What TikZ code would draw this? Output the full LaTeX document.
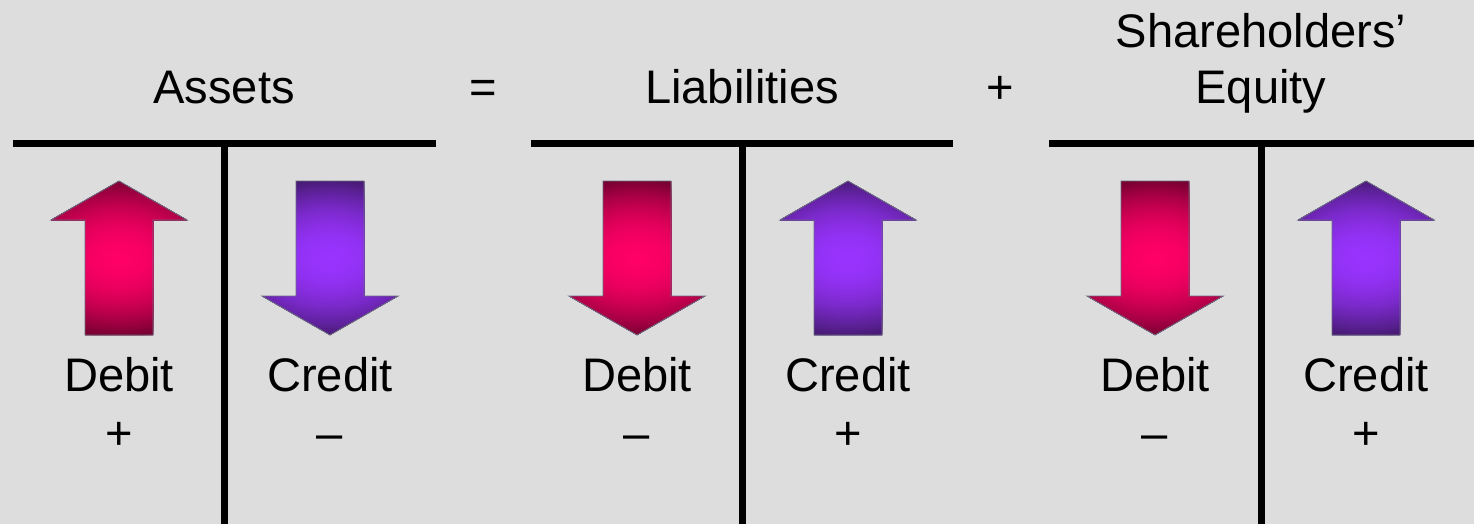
\documentclass[tikz,border=0pt]{standalone}
\usepackage{fontspec}
\setmainfont{Liberation Sans}
\usepackage{tikz}
\usetikzlibrary{positioning}

\definecolor{bgray}{HTML}{DDDDDD}
\definecolor{rosedk}{HTML}{740030}
\definecolor{roselt}{HTML}{FF0066}
\definecolor{violetdk}{HTML}{461A72}
\definecolor{violetlt}{HTML}{9933FF}
\definecolor{rimgray}{HTML}{6A6A80}

\tikzset{
  tbar/.style={line width=0.14cm, black},
  lbl/.style={font=\fontsize{26.8}{30}\selectfont, inner sep=0pt, anchor=base},
  rim/.style={draw=rimgray, line width=0.5pt, line join=miter},
}

\begin{document}
\begin{tikzpicture}[x=0.02cm, y=-0.02cm]
  \fill[bgray] (0,0) rectangle (1474,524);
  \useasboundingbox (0,0) rectangle (1474,524);

  % headings
  \node[lbl] (assets) at (224,103) {Assets};
  \node[lbl, anchor=center] (eq) at (483,92) {=};
  \node[lbl] (liab) at (742,103) {Liabilities};
  \node[lbl, anchor=center] (plus) at (1000,90) {+};
  \node[lbl] (share) at (1261,47) {Shareholders’};
  \node[lbl] (equity) at (1261,103) {Equity};

  % the three T accounts
  \draw[tbar] (13,143.5) -- (436,143.5);
  \draw[tbar] (224.5,143.5) -- (224.5,524);
  \draw[tbar] (531,143.5) -- (953,143.5);
  \draw[tbar] (742,143.5) -- (742,524);
  \draw[tbar] (1049,143.5) -- (1474,143.5);
  \draw[tbar] (1261,143.5) -- (1261,524);

  % arrows: x / direction (1 = up, -1 = down) / colour
  \foreach \cx/\d/\tone in {119/1/rose, 330/-1/violet, 637/-1/rose,
                            848/1/violet, 1155/-1/rose, 1366/1/violet}{
    \ifnum\d=1
      \path[save path=\arrowpath] (\cx,181) -- (\cx+68,220) -- (\cx+34,220) -- (\cx+34,335)
        -- (\cx-34,335) -- (\cx-34,220) -- (\cx-68,220) -- cycle;
    \else
      \path[save path=\arrowpath] (\cx,335) -- (\cx+68,296) -- (\cx+34,296) -- (\cx+34,181)
        -- (\cx-34,181) -- (\cx-34,296) -- (\cx-68,296) -- cycle;
    \fi
    \begin{scope}
      \clip[use path=\arrowpath];
      \fill[\tone dk] (\cx-80,170) rectangle (\cx+80,345);
      % glow from the middle outwards
      \foreach \k in {0,...,40}{
        \pgfmathsetmacro\r{1.1*(1-\k/40)}
        \pgfmathsetmacro\m{max(0,100*(1-\r*\r))}
        \fill[\tone lt!\m!\tone dk] (\cx,258) ellipse [x radius=115*\r, y radius=80*\r];
      }
    \end{scope}
    \draw[rim, use path=\arrowpath];
  }

  % debit / credit labels
  \node[lbl] (adeb) at (119,391) {Debit};
  \node[lbl] (asgnd) at (119,449) {+};
  \node[lbl] (acred) at (330,391) {Credit};
  \node[lbl] (asgnc) at (330,449) {–};
  \node[lbl] (ldeb) at (637,391) {Debit};
  \node[lbl] (lsgnd) at (637,449) {–};
  \node[lbl] (lcred) at (848,391) {Credit};
  \node[lbl] (lsgnc) at (848,449) {+};
  \node[lbl] (edeb) at (1155,391) {Debit};
  \node[lbl] (esgnd) at (1155,449) {–};
  \node[lbl] (ecred) at (1366,391) {Credit};
  \node[lbl] (esgnc) at (1366,449) {+};
\end{tikzpicture}
\end{document}
